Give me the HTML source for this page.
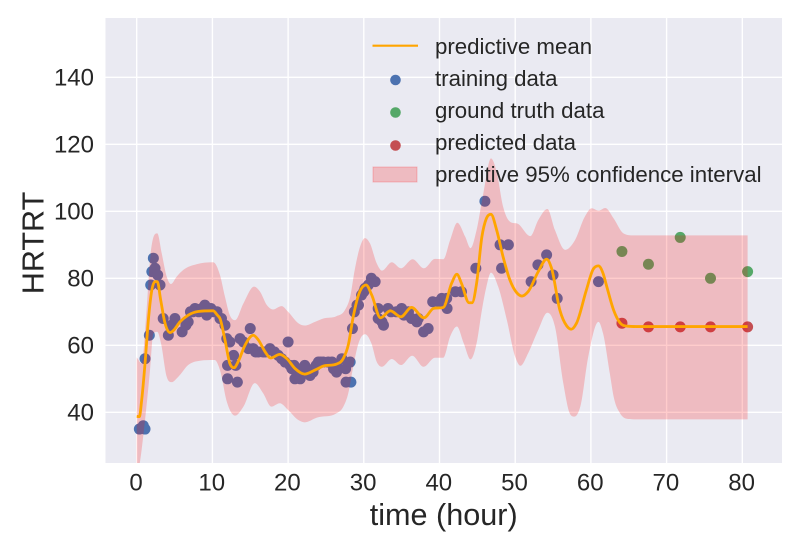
<!DOCTYPE html>
<html>
<head>
<meta charset="utf-8">
<title>HRTRT predictive chart</title>
<style>
html,body{margin:0;padding:0;background:#fff;width:800px;height:550px;overflow:hidden}
svg{display:block}
text{font-family:"Liberation Sans",sans-serif;fill:#262626}
</style>
</head>
<body>
<svg id="chart" width="800" height="550" viewBox="0 0 800 550" xmlns="http://www.w3.org/2000/svg">
  <defs><clipPath id="plot-clip"><rect x="105.5" y="18" width="676.5" height="445"/></clipPath></defs>
  <rect x="105.5" y="18" width="676.5" height="445" fill="#eaeaf2"/>
  <g id="grid"></g>
  <g id="marks" clip-path="url(#plot-clip)"></g>
  <g id="ticks"></g>
  <text x="443.7" y="525" font-size="30.6" text-anchor="middle">time (hour)</text>
  <text transform="translate(43.5,243) rotate(-90)" font-size="30.6" text-anchor="middle">HRTRT</text>
  <g>
    <line x1="372.5" y1="45.7" x2="418" y2="45.7" stroke="#ffa500" stroke-width="2.2"/>
    <text x="435" y="54" font-size="22.25">predictive mean</text>
    <circle cx="395.5" cy="80" r="5.3" fill="#4c72b0"/>
    <text x="435" y="86" font-size="22.25">training data</text>
    <circle cx="395.5" cy="112.5" r="5.3" fill="#55a868"/>
    <text x="435" y="118" font-size="22.25">ground truth data</text>
    <circle cx="395.5" cy="145.5" r="5.3" fill="#c44e52"/>
    <text x="435" y="150" font-size="22.25">predicted data</text>
    <rect x="373" y="167" width="44" height="15" fill="#ff0000" fill-opacity="0.2" stroke="#ff0000" stroke-opacity="0.2"/>
    <text x="435" y="182" font-size="22.25">preditive 95% confidence interval</text>
  </g>
</svg>
<script>
const xTickLabels = [0,10,20,30,40,50,60,70,80];
const yTickLabels = [40,60,80,100,120,140];

const trainTime = [0.35,0.87,1.1,1.1,1.67,1.85,2,2.2,2.42,2.77,3.08,3.5,4.18,4.6,5.05,6,6.5,6.8,7.1,7.4,7.7,8.2,8.6,9,9.25,9.8,10.2,10.6,11,11.2,11.66,11.9,12,12,12.3,12.8,13.1,13.3,13.65,14.1,14.75,15,15.4,15.7,16.07,16.7,17,17.6,18.2,18.7,19.15,19.6,20,20.25,20.5,20.8,20.9,21.3,21.6,22.2,22.5,22.9,23.3,23.7,24,24.3,24.65,25.3,25.8,26,26.4,26.7,27.1,27.6,27.65,28.2,28.3,28.5,28.75,29.1,29.3,29.7,30,30.15,30.6,31,31.5,31.9,31.9,32.4,32.6,33.2,33.6,34.3,35,35.3,35.9,36.3,37,37.2,37.9,38.5,39.1,39.9,40.3,40.95,41,42.1,42.9,44.8,46,48,48.2,49.1,52.1,53,54.15,55,55.55,61];
const trainValue = [35,36,35,56,63,78,82,86,83,81,78,68,63,66,68,64,66,67,70,70,71,70,71,72,69,71,70,70,68,68,66,62,54,50,61,57,54,49,62,61,59,65,59,58,58,58,58,59,58,57,56,55,61,54,53,54,50,52,50,54,53,51,52,54,55,55,55,55,55,53,52,53,56,53,49,55,49,65,70,72,72,75,76,77,78,80,79,71,68,67,66,71,70,70,71,69,70,68,67,68,64,65,73,73,74,74,71,76,76,83,103,90,83,90,79,84,87,81,74,79];

const truthTime = [64.1,67.6,71.8,75.8,80.7];
const truthValue = [88,84.2,92.2,80,82];
const predictedTime = [64.1,67.6,71.8,75.8,80.7];
const predictedValue = [66.6,65.5,65.5,65.5,65.5];

const meanTime = [0,0.35,0.66,1.1,1.54,2,2.42,2.72,3.17,3.74,4.4,4.84,5.72,6.8,8.1,10.1,10.65,11,11.66,12.3,12.85,13.4,14.3,15.4,16.07,16.95,17.7,18.9,19.8,20.9,22.2,23.55,24.65,26.4,27.3,27.95,28.6,29.3,30.3,31.05,32.2,33.5,34.9,36.3,37.95,39.2,40.5,41.6,42.3,42.9,43.9,44.3,44.9,45.6,46.2,46.8,47.55,48.4,49.3,50.2,50.9,51.7,53.05,54.15,54.8,55.9,56.8,57.4,58.1,59.4,60.3,61,61.6,62.1,63,63.85,64.9,66,68,80.7];
const meanValue = [38.8,38.7,43.7,54.6,67.5,76.5,79,79,73.5,66.6,63.8,64.4,67,69,70.1,70.3,69,68,61.6,54.6,53.3,55.1,60,63,61.6,58.1,56.2,57.3,56.1,53.1,51.4,52.6,53.8,54.4,56.1,60.1,68.5,75,78,75,68.2,70.3,68.5,71.3,68.2,71,71.3,78.5,81.2,78.5,72.7,72.7,78.5,92.4,97.9,99.1,94.4,86.4,79.5,75.7,74.7,76,82,85.7,83,70.5,65.8,64.8,66.6,76.5,82.7,83.7,81.5,77.5,70.5,66.7,65.7,65.6,65.6,65.6];

const upperTime = [0,0.66,1.3,1.76,2.42,2.72,3.3,3.96,4.53,5.28,6.16,7.9,10.1,11,11.66,12.3,13,14.1,15.5,16.3,17.2,18,19.15,20,21.35,22.2,23.55,24.65,26.4,27.5,28.2,28.8,29.5,30.15,30.8,31.7,32.4,33.7,34.9,36.45,37.95,39.4,40.5,41.4,42.35,43.4,44.1,44.9,45.8,46.8,47.55,48.4,49.3,50.4,52,53.05,54.25,55.25,56.6,57.9,59.2,60.1,61,61.9,63,64.3,65.6,67,80.7];
const upperValue = [56.4,54.6,70.5,85.5,93.2,93.4,87.5,80.5,78.3,80.5,82.5,84.2,84.8,81,74.5,69,67.5,72.5,77.5,76,72,70.7,71.7,70,66.6,65.9,67,68,68.7,70.5,74.5,82.5,89.4,92,90.5,84.5,82.3,84.8,83,85.7,83,85.8,85.7,91.4,96.6,92.4,89,94.4,105.5,115.8,111.8,101.4,96.9,96.2,92.6,97.4,100.7,94.4,88.5,91.4,98.4,100.9,100.2,101,97.9,93.4,92.8,92.8,92.8];

const lowerTime = [0,0.44,1.1,1.76,2.2,2.72,3.2,3.96,4.62,5.5,6.8,8.36,10.3,11,11.9,13,14.1,15.6,16.7,17.8,18.9,20,21.35,22.2,23.8,26.4,27.3,27.95,28.6,29.3,30.15,31,31.7,32.4,33.7,34.9,36.4,37.9,39.4,40.5,41.4,42.3,43.2,44.1,44.9,45.6,46.2,46.8,47.75,48.9,50,50.7,51.7,53.05,54.25,55.25,56.35,57.2,57.8,58.6,59.65,61,61.6,62.5,63,63.85,64.9,66,80.7];
const lowerValue = [20,25.3,37.7,52.6,63.6,64,60.7,50.6,49,50.6,54.1,55.4,55.6,52.6,43.2,39,41.7,48.7,45.7,41.7,42.7,40.7,37.7,37,38.4,39.7,41.7,45.7,53.6,60.6,63.3,60.6,55.1,53.6,55.9,54.1,56.9,53.6,56.3,56.3,62.6,65.6,60.6,55.8,60.6,70.5,77.5,81.7,77.5,67.5,56.6,53.9,57.6,64.6,69.7,65.6,48.7,39.7,38.7,41.7,56.6,67,63.6,51.6,44.7,39.7,38,37.9,37.9];

const NS = 'http://www.w3.org/2000/svg';
function xScale(t){ return 136.7 + t * 7.57; }
function yScale(v){ return 412.3 - (v - 40) * 3.35; }

function tangents(ts, vs){
  const n = ts.length, m = new Array(n);
  for (let i = 0; i < n; i++) {
    if (i === 0) m[i] = (vs[1] - vs[0]) / (ts[1] - ts[0]);
    else if (i === n - 1) m[i] = (vs[n-1] - vs[n-2]) / (ts[n-1] - ts[n-2]);
    else {
      const a = (vs[i] - vs[i-1]) / (ts[i] - ts[i-1]);
      const b = (vs[i+1] - vs[i]) / (ts[i+1] - ts[i]);
      if (a * b <= 0) {
        m[i] = 0;
      } else {
        const h0 = ts[i] - ts[i-1], h1 = ts[i+1] - ts[i];
        m[i] = (a * h1 + b * h0) / (h0 + h1);
        const lim = 3 * Math.min(Math.abs(a), Math.abs(b));
        if (Math.abs(m[i]) > lim) m[i] = Math.sign(m[i]) * lim;
      }
    }
  }
  return m;
}
function curve(ts, vs){
  const m = tangents(ts, vs);
  let d = '';
  for (let i = 0; i < ts.length - 1; i++) {
    const h = (ts[i+1] - ts[i]) / 3;
    d += ' C' + xScale(ts[i] + h).toFixed(2) + ',' + yScale(vs[i] + m[i] * h).toFixed(2) +
         ' ' + xScale(ts[i+1] - h).toFixed(2) + ',' + yScale(vs[i+1] - m[i+1] * h).toFixed(2) +
         ' ' + xScale(ts[i+1]).toFixed(2) + ',' + yScale(vs[i+1]).toFixed(2);
  }
  return d;
}
function start(ts, vs, i){ return xScale(ts[i]).toFixed(2) + ',' + yScale(vs[i]).toFixed(2); }

const grid = document.getElementById('grid');
const ticks = document.getElementById('ticks');
const marks = document.getElementById('marks');

xTickLabels.forEach(function (t) {
  const line = document.createElementNS(NS, 'line');
  
  
  line.setAttribute('x1', xScale(t));
  line.setAttribute('x2', xScale(t));
  line.setAttribute('y1', 18);
  line.setAttribute('y2', 463);
  line.setAttribute('stroke', '#ffffff');
  line.setAttribute('stroke-width', 1.4);
  grid.appendChild(line);
  const label = document.createElementNS(NS, 'text');
  
  
  label.setAttribute('x', xScale(t) - 0.7);
  label.setAttribute('y', 490.7);
  label.setAttribute('font-size', 24);
  label.setAttribute('text-anchor', 'middle');
  label.textContent = t;
  ticks.appendChild(label);
});
yTickLabels.forEach(function (v) {
  const line = document.createElementNS(NS, 'line');
  
  
  line.setAttribute('x1', 105.5);
  line.setAttribute('x2', 782);
  line.setAttribute('y1', yScale(v));
  line.setAttribute('y2', yScale(v));
  line.setAttribute('stroke', '#ffffff');
  line.setAttribute('stroke-width', 1.4);
  grid.appendChild(line);
  const label = document.createElementNS(NS, 'text');
  
  
  label.setAttribute('x', 94);
  label.setAttribute('y', yScale(v) + 8.4);
  label.setAttribute('font-size', 24);
  label.setAttribute('text-anchor', 'end');
  label.textContent = v;
  ticks.appendChild(label);
});

trainTime.forEach(function (t, i) {
  const dot = document.createElementNS(NS, 'circle');
  
  
  dot.setAttribute('cx', xScale(t));
  dot.setAttribute('cy', yScale(trainValue[i]));
  dot.setAttribute('r', 5.5);
  dot.setAttribute('fill', '#4c72b0');
  marks.appendChild(dot);
});
truthTime.forEach(function (t, i) {
  const dot = document.createElementNS(NS, 'circle');
  
  
  dot.setAttribute('cx', xScale(t));
  dot.setAttribute('cy', yScale(truthValue[i]));
  dot.setAttribute('r', 5.5);
  dot.setAttribute('fill', '#55a868');
  marks.appendChild(dot);
});
predictedTime.forEach(function (t, i) {
  const dot = document.createElementNS(NS, 'circle');
  
  
  dot.setAttribute('cx', xScale(t));
  dot.setAttribute('cy', yScale(predictedValue[i]));
  dot.setAttribute('r', 5.5);
  dot.setAttribute('fill', '#c44e52');
  marks.appendChild(dot);
});

const revT = lowerTime.slice().reverse();
const revV = lowerValue.slice().reverse();
const band = document.createElementNS(NS, 'path');


band.setAttribute('d', 'M' + start(upperTime, upperValue, 0) + curve(upperTime, upperValue) +
  ' L' + start(revT, revV, 0) + curve(revT, revV) + ' Z');
band.setAttribute('fill', '#ff0000');
band.setAttribute('fill-opacity', 0.2);
marks.appendChild(band);

const mean = document.createElementNS(NS, 'path');


mean.setAttribute('d', 'M' + start(meanTime, meanValue, 0) + curve(meanTime, meanValue));
mean.setAttribute('fill', 'none');
mean.setAttribute('stroke', '#ffa500');
mean.setAttribute('stroke-width', 2.8);
marks.appendChild(mean);
</script>
</body>
</html>
